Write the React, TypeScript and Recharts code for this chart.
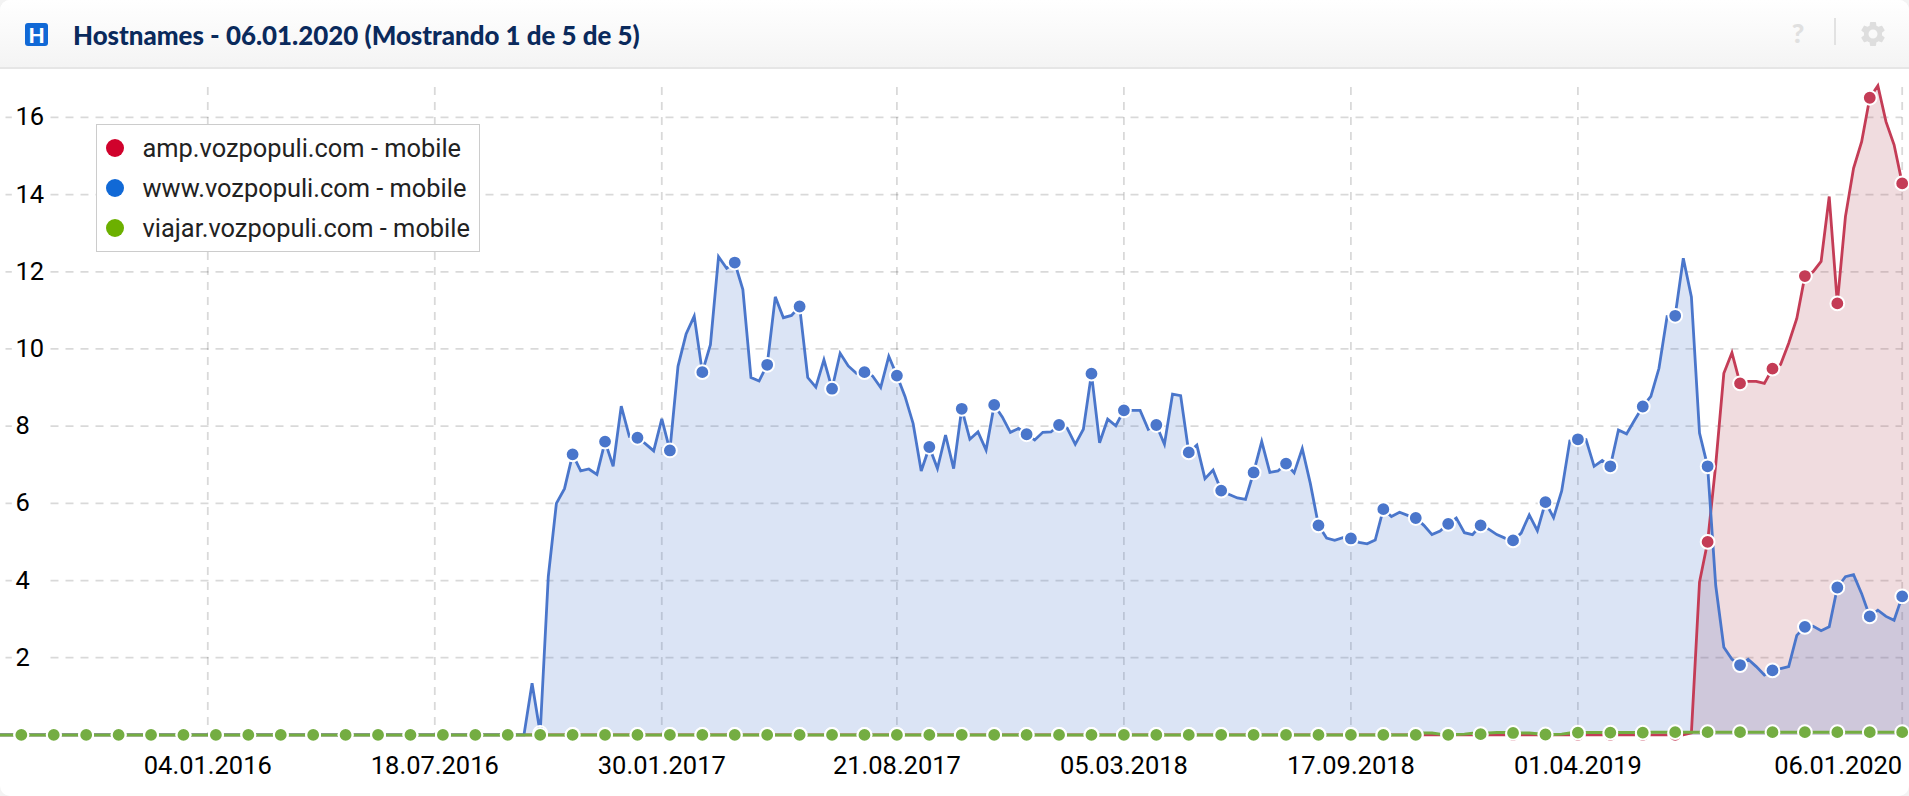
import { ComposedChart, Area, Line, XAxis, YAxis, CartesianGrid, Legend } from "recharts";

// one value per week, week -26 .. 209 (week 0 = 04.01.2016)
const ampValues = [
  0, 0, 0, 0, 0, 0, 0, 0, 0, 0, 0, 0, 0, 0, 0, 0, 0, 0, 0, 0, 0, 0, 0, 0, 0, 0,
  0, 0, 0, 0, 0, 0, 0, 0, 0, 0, 0, 0, 0, 0, 0, 0, 0, 0, 0, 0, 0, 0, 0, 0,
  0, 0, 0, 0, 0, 0, 0, 0, 0, 0, 0, 0, 0, 0, 0, 0, 0, 0, 0, 0, 0, 0, 0, 0, 0,
  0, 0, 0, 0, 0, 0, 0, 0, 0, 0, 0, 0, 0, 0, 0, 0, 0, 0, 0, 0, 0, 0, 0, 0, 0,
  0, 0, 0, 0, 0, 0, 0, 0, 0, 0, 0, 0, 0, 0, 0, 0, 0, 0, 0, 0, 0, 0, 0, 0, 0,
  0, 0, 0, 0, 0, 0, 0, 0, 0, 0, 0, 0, 0, 0, 0, 0, 0, 0, 0, 0, 0, 0, 0, 0, 0,
  0, 0, 0, 0, 0, 0, 0, 0, 0, 0, 0, 0, 0, 0, 0, 0, 0, 0, 0, 0, 0, 0, 0, 0, 0,
  0, 0, 0, 0, 0, 0, 0, 0, 0, 0, 0, 0, 0, 0, 0, 0, 0, 0, 0, 0, 0, 0, 0, 0, 0,
  0, 0, 0, 0, 0, 0, 0, 0, 0,
  0.05, 3.96, 5.0, 7.0, 9.37, 9.9, 9.11, 9.16, 9.16, 9.11, 9.49, 9.6, 10.15, 10.79, 11.89, 12.0, 12.27, 13.95, 11.18, 13.43, 14.68, 15.37, 16.51, 16.82, 15.89, 15.29, 14.29,
];

const wwwValues = [
  0, 0, 0, 0, 0, 0, 0, 0, 0, 0, 0, 0, 0, 0, 0, 0, 0, 0, 0, 0, 0, 0, 0, 0, 0, 0,
  0, 0, 0, 0, 0, 0, 0, 0, 0, 0, 0, 0, 0, 0, 0, 0, 0, 0, 0, 0, 0, 0, 0, 0,
  0, 0, 0, 0, 0, 0, 0, 0, 0, 0, 0, 0, 0, 0, 0, 0,
  1.34, 0.05, 4.1,
  6.0, 6.38, 7.27, 6.84, 6.89, 6.75, 7.6, 6.96, 8.52, 7.73, 7.7, 7.54, 7.36, 8.19, 7.37, 9.55, 10.39, 10.85, 9.4, 10.11, 12.39, 12.09, 12.24, 11.54, 9.26, 9.17, 9.59, 11.35, 10.81, 10.87, 11.1, 9.26, 9.01, 9.72, 8.97, 9.89, 9.56, 9.37, 9.4, 9.3, 9.0, 9.81, 9.31, 8.77, 8.07, 6.84, 7.46, 6.9, 7.77, 6.9, 8.45, 7.66, 7.85, 7.38, 8.55,
  8.24, 7.84, 7.94, 7.79, 7.64, 7.84, 7.85, 8.03, 7.95, 7.53, 7.92, 9.36, 7.57, 8.18, 8.01, 8.41, 8.41, 8.41, 7.92, 8.03, 7.53, 8.83, 8.79, 7.32, 7.51, 6.64, 6.86, 6.33, 6.23, 6.14, 6.1, 6.8, 7.6, 6.8, 6.84, 7.03, 6.79, 7.42, 6.51, 5.43, 5.1, 5.04, 5.11, 5.09, 4.99, 4.95, 5.05, 5.85, 5.66, 5.77, 5.69, 5.62, 5.43, 5.19, 5.28, 5.47, 5.62, 5.24, 5.19, 5.43, 5.33, 5.19,
  5.1, 5.04, 5.23, 5.7, 5.29, 6.03, 5.63, 6.32, 7.62, 7.66, 7.65, 6.96, 7.11, 6.96, 7.9, 7.8, 8.16, 8.51, 8.77, 9.5, 10.84, 10.86, 12.35, 11.35, 7.82, 6.96, 3.87, 2.27, 1.96, 1.81, 1.96, 1.77, 1.55, 1.67, 1.72, 1.77, 2.58, 2.8, 2.82, 2.7, 2.8, 3.82, 4.1, 4.15, 3.66, 3.07, 3.23, 3.07, 2.97, 3.59,
];

const viajarValues = [
  0, 0, 0, 0, 0, 0, 0, 0, 0, 0, 0, 0, 0, 0, 0, 0, 0, 0, 0, 0, 0, 0, 0, 0, 0, 0,
  0, 0, 0, 0, 0, 0, 0, 0, 0, 0, 0, 0, 0, 0, 0, 0, 0, 0, 0, 0, 0, 0, 0, 0,
  0, 0, 0, 0, 0, 0, 0, 0, 0, 0, 0, 0, 0, 0, 0, 0, 0, 0, 0, 0, 0, 0, 0, 0, 0,
  0, 0, 0, 0, 0, 0, 0, 0, 0, 0, 0, 0, 0, 0, 0, 0, 0, 0, 0, 0, 0, 0, 0, 0, 0,
  0, 0, 0, 0, 0, 0, 0, 0, 0, 0, 0, 0, 0, 0, 0, 0, 0, 0, 0, 0, 0, 0, 0, 0, 0,
  0, 0, 0, 0, 0, 0, 0, 0, 0, 0, 0, 0, 0, 0, 0, 0, 0, 0, 0, 0, 0, 0, 0, 0, 0,
  0, 0, 0, 0, 0, 0, 0, 0, 0, 0, 0, 0, 0, 0, 0, 0, 0, 0, 0, 0, 0, 0, 0, 0, 0, 0,
  0.05, 0.05, 0.02, 0, 0.01, 0.02, 0.04, 0.02, 0.05, 0.06, 0.06, 0.05, 0.05, 0.05, 0.03, 0.01, 0.01, 0.02, 0.05, 0.06,
  0.06, 0.06, 0.06, 0.06, 0.06, 0.06, 0.06, 0.06, 0.07, 0.07, 0.07, 0.07, 0.07, 0.07, 0.07, 0.07, 0.07, 0.07, 0.07, 0.07,
  0.07, 0.07, 0.07, 0.07, 0.07, 0.07, 0.07, 0.07, 0.07, 0.07, 0.07, 0.07, 0.07, 0.07, 0.07, 0.07, 0.07, 0.07, 0.07, 0.07,
];

const xTicks = [0, 28, 56, 85, 113, 141, 169, 209];
const xTickLabels = ["04.01.2016", "18.07.2016", "30.01.2017", "21.08.2017", "05.03.2018", "17.09.2018", "01.04.2019", "06.01.2020"];
const yTicks = [2, 4, 6, 8, 10, 12, 14, 16];

const legendNames = ["amp.vozpopuli.com - mobile", "www.vozpopuli.com - mobile", "viajar.vozpopuli.com - mobile"];
const legendColors = ["#d0022c", "#1169d6", "#6cb000"];

const FIRST_WEEK = -26;
const LAST_WEEK = 210; // only the fills reach this far, up to the right edge
const CHART_LEFT = -3.78;
const CHART_WIDTH = 1914.3;

const data = [...ampValues, null].map((_, i) => ({
  week: FIRST_WEEK + i,
  amp: ampValues[i],
  www: wwwValues[i],
  viajar: viajarValues[i],
  ampFill: ampValues[i] ?? ampValues[ampValues.length - 1],
  wwwFill: wwwValues[i] ?? wwwValues[wwwValues.length - 1],
}));

const font = "Roboto, sans-serif";

const gridLine = (props: any) =>
  props.x1 === props.x2 ? (
    <line key={props.key} x1={props.x1} x2={props.x2} y1={87} y2={props.y2} stroke="#000" strokeOpacity={0.15} strokeWidth={1.8} strokeDasharray="8 7" />
  ) : (
    <line key={props.key} x1={9.5} x2={1905.8} y1={props.y1} y2={props.y2} stroke="#000" strokeOpacity={0.15} strokeWidth={1.8} strokeDasharray="8 7" />
  );

const XTick = ({ x, payload }: any) => (
  <text x={x} y={774} fontFamily={font} fontSize={25.5} fill="#000" textAnchor={payload.value === 209 ? "end" : "middle"}>
    {xTickLabels[xTicks.indexOf(payload.value)]}
  </text>
);

const YTick = ({ y, payload }: any) => (
  <g>
    <rect x={15.8} y={y - 12} width={38} height={24} fill="#fff" />
    <text x={19.5} y={y + 8} fontFamily={font} fontSize={25.5} fill="#000">
      {payload.value}
    </text>
  </g>
);

const markerDot = (color: string) => (props: any) => {
  const { cx, cy, payload, key } = props;
  if (payload.amp === undefined || (payload.week + 23) % 4 !== 0) return <g key={key} />;
  return <circle key={key} cx={cx} cy={cy} r={6.9} fill={color} stroke="#fff" strokeWidth={2} />;
};

const LegendBox = () => (
  <div style={{ boxSizing: "border-box", width: 384, height: 128, background: "#fff", border: "1.5px solid #ccc", fontFamily: font, fontSize: 25.4, color: "#222" }}>
    {legendNames.map((name, i) => (
      <div key={name} style={{ position: "absolute", left: 0, top: 4 + i * 40, height: 40, lineHeight: "40px", whiteSpace: "nowrap" }}>
        <span style={{ position: "absolute", left: 10, top: 11, width: 18, height: 18, borderRadius: 9, background: legendColors[i] }} />
        <span style={{ position: "absolute", left: 47 }}>{name}</span>
      </div>
    ))}
  </div>
);

const Header = () => (
  <div style={{ position: "absolute", left: 0, top: 0, width: 1909, height: 69, boxSizing: "border-box", background: "linear-gradient(#ffffff, #f4f4f4)", borderBottom: "2px solid #e6e6e6" }}>
    <div style={{ position: "absolute", left: 25, top: 23, width: 23, height: 23, borderRadius: 3, background: "#1169d6", color: "#fff", fontFamily: "Lato, sans-serif", fontWeight: 900, fontSize: 21, lineHeight: "23px", textAlign: "center" }}>H</div>
    <div style={{ position: "absolute", left: 73, top: 19, fontFamily: "Lato, sans-serif", fontWeight: 900, fontSize: 25.9, lineHeight: "32px", color: "#0a2a5c", whiteSpace: "nowrap" }}>
      Hostnames - 06.01.2020 (Mostrando 1 de 5 de 5)
    </div>
    <div style={{ position: "absolute", left: 1788, top: 15, width: 20, textAlign: "center", fontFamily: "Lato, sans-serif", fontWeight: 900, fontSize: 27, lineHeight: "36px", color: "#e0e0e0" }}>?</div>
    <div style={{ position: "absolute", left: 1834, top: 18, width: 2, height: 27, background: "#e2e2e2" }} />
    <svg style={{ position: "absolute", left: 1858, top: 19 }} width={30} height={30} viewBox="0 0 24 24">
      <path fill="#dedede" d="M19.14 12.94c.04-.3.06-.61.06-.94 0-.32-.02-.64-.07-.94l2.03-1.58c.18-.14.23-.41.12-.61l-1.92-3.32c-.12-.22-.37-.29-.59-.22l-2.39.96c-.5-.38-1.03-.7-1.62-.94l-.36-2.54c-.04-.24-.24-.41-.48-.41h-3.84c-.24 0-.43.17-.47.41l-.36 2.54c-.59.24-1.13.57-1.62.94l-2.39-.96c-.22-.08-.47 0-.59.22L2.74 8.87c-.12.21-.08.47.12.61l2.03 1.58c-.05.3-.09.63-.09.94s.02.64.07.94l-2.03 1.58c-.18.14-.23.41-.12.61l1.92 3.32c.12.22.37.29.59.22l2.39-.96c.5.38 1.03.7 1.62.94l.36 2.54c.05.24.24.41.48.41h3.84c.24 0 .44-.17.47-.41l.36-2.54c.59-.24 1.13-.56 1.62-.94l2.39.96c.22.08.47 0 .59-.22l1.92-3.32c.12-.22.07-.47-.12-.61l-2.01-1.58zM12 15.6c-1.98 0-3.6-1.62-3.6-3.6s1.62-3.6 3.6-3.6 3.6 1.62 3.6 3.6-1.62 3.6-3.6 3.6z" />
    </svg>
  </div>
);

export default function App() {
  return (
    <div style={{ position: "absolute", left: 0, top: 0, width: 1909, height: 796, background: "#f3f3f3" }}>
      <div style={{ position: "absolute", inset: 0, background: "#fff", borderRadius: 10, overflow: "hidden" }}>
        <div style={{ position: "absolute", left: CHART_LEFT, top: 0 }}>
          <ComposedChart width={CHART_WIDTH} height={796} data={data} margin={{ top: 85, right: 0, bottom: 0, left: 0 }}>
            <CartesianGrid horizontalValues={yTicks} verticalValues={xTicks} horizontal={gridLine} vertical={gridLine} />
            <XAxis dataKey="week" type="number" domain={[FIRST_WEEK, LAST_WEEK]} ticks={xTicks} interval={0} tick={<XTick />} tickLine={false} axisLine={false} height={61.1} />
            <YAxis type="number" domain={[0, 16.84]} ticks={yTicks} interval={0} tick={<YTick />} tickLine={false} axisLine={false} width={1} />
            <Area dataKey="ampFill" stroke="none" fill="#b4505f" fillOpacity={0.2} isAnimationActive={false} dot={false} activeDot={false} />
            <Area dataKey="wwwFill" stroke="none" fill="#4a76cb" fillOpacity={0.2} isAnimationActive={false} dot={false} activeDot={false} />
            <Line dataKey="amp" stroke="#c43c56" strokeWidth={2.8} dot={markerDot("#c43c56")} activeDot={false} isAnimationActive={false} />
            <Line dataKey="www" stroke="#4a76cb" strokeWidth={2.8} dot={markerDot("#4a76cb")} activeDot={false} isAnimationActive={false} />
            <Line dataKey="viajar" stroke="#74ad42" strokeWidth={3} dot={markerDot("#74ad42")} activeDot={false} isAnimationActive={false} />
            <Legend layout="vertical" align="center" verticalAlign="middle" content={<LegendBox />} wrapperStyle={{ left: 95.5 - CHART_LEFT, top: 124, width: 384 }} />
          </ComposedChart>
        </div>
        <Header />
      </div>
    </div>
  );
}
